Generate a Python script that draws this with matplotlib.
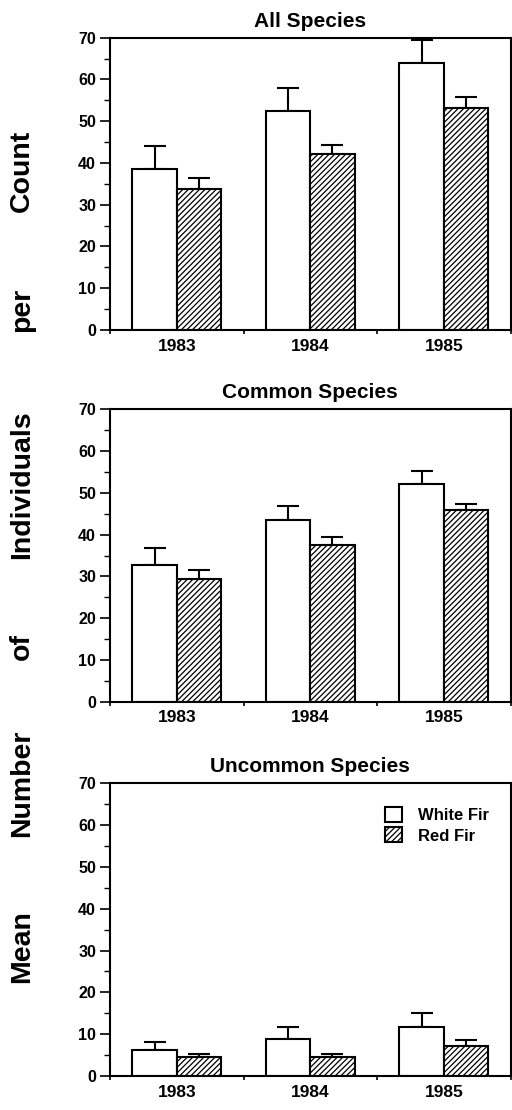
"""
Mean number of individuals per count, white fir vs red fir, 1983-1985.
"""
import numpy as np
import matplotlib
matplotlib.use('Agg')
import matplotlib.pyplot as plt
from matplotlib.ticker import MultipleLocator
from matplotlib.patches import Patch

plt.rcParams['font.family'] = ['Liberation Sans', 'DejaVu Sans']
plt.rcParams['font.weight'] = 'bold'
plt.rcParams['hatch.linewidth'] = 0.9

# data
years = ['1983', '1984', '1985']
titles = ['All Species', 'Common Species', 'Uncommon Species']

white_mean = [[38.5, 52.4, 64.0], [32.8, 43.4, 52.2], [6.2, 8.9, 11.6]]
white_se = [[5.6, 5.5, 5.5], [3.9, 3.5, 3.1], [1.9, 2.7, 3.4]]
red_mean = [[33.7, 42.2, 53.1], [29.4, 37.4, 45.8], [4.5, 4.5, 7.2]]
red_se = [[2.8, 2.1, 2.8], [2.1, 2.1, 1.6], [0.8, 0.8, 1.3]]

ylabel_words = ['Count', 'per', 'Individuals', 'of', 'Number', 'Mean']
ylabel_ypix = [171, 310, 485, 647, 783, 947]

W, H = 512, 1110
fig = plt.figure(figsize=(W / 100, H / 100), dpi=100)

# axes boxes in pixels: (top, bottom)
boxes = [(37.7, 330.0), (409.3, 701.7), (783.3, 1076.0)]
left_px, right_px = 110, 510.5

x = np.arange(len(years)) + 0.5
bw = 0.333

for i, (top, bot) in enumerate(boxes):
    ax = fig.add_axes([left_px / W, 1 - bot / H, (right_px - left_px) / W, (bot - top) / H])
    ax.bar(x - bw / 2, white_mean[i], bw, color='white', edgecolor='black', linewidth=1.5, zorder=2)
    ax.bar(x + bw / 2, red_mean[i], bw, color='white', edgecolor='black', linewidth=1.5,
           hatch='//////', zorder=2)
    ax.errorbar(x - bw / 2, white_mean[i], yerr=[np.zeros(3), white_se[i]], fmt='none',
                ecolor='black', elinewidth=1.5, capsize=8, capthick=1.5, zorder=1)
    ax.errorbar(x + bw / 2, red_mean[i], yerr=[np.zeros(3), red_se[i]], fmt='none',
                ecolor='black', elinewidth=1.5, capsize=8, capthick=1.5, zorder=1)

    ax.set_xlim(0, 3)
    ax.set_ylim(0, 70)
    ax.yaxis.set_major_locator(MultipleLocator(10))
    ax.yaxis.set_minor_locator(MultipleLocator(5))
    ax.set_xticks([0, 1, 2, 3])
    ax.set_xticklabels([])
    ax.tick_params(axis='x', length=3, width=1.2, direction='out')
    ax.tick_params(axis='y', which='major', length=7, width=1.2, labelsize=11.5, pad=3)
    ax.tick_params(axis='y', which='minor', length=4, width=1.0)
    for lbl in ax.get_yticklabels():
        lbl.set_fontweight('bold')
    for s in ax.spines.values():
        s.set_linewidth(1.5)

    for xi, yr in zip(x, years):
        ax.text(xi, -0.055, yr, transform=ax.get_xaxis_transform(), ha='center', va='center',
                fontsize=12.5, fontweight='bold')

    ax.set_title(titles[i], fontsize=15, fontweight='bold', pad=8)

    if i == 2:
        handles = [Patch(facecolor='white', edgecolor='black', linewidth=1.5),
                   Patch(facecolor='white', edgecolor='black', linewidth=1.5, hatch='//////')]
        ax.legend(handles, ['White Fir', 'Red Fir'], loc='upper right', frameon=False,
                  bbox_to_anchor=(0.985, 0.97), handlelength=1.0, handleheight=1.0,
                  handletextpad=1.0, labelspacing=0.25, prop={'weight': 'bold', 'size': 12})

for word, yp in zip(ylabel_words, ylabel_ypix):
    fig.text(22 / W, 1 - yp / H, word, rotation=90, ha='center', va='center',
             fontsize=20.5, fontweight='bold')

fig.savefig('out.png', dpi=100)
